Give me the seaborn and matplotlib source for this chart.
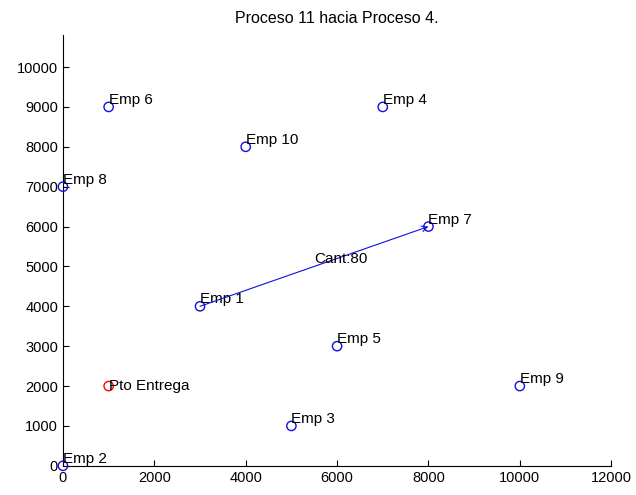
"""
Ruta entre procesos: puntos de empresas y envio
"""

import pandas as pd
import matplotlib.pyplot as plt
import seaborn as sns

sns.set_style("ticks", {'axes.edgecolor': 'black', 'text.color': 'black',
                        'xtick.color': 'black', 'ytick.color': 'black'})
plt.rcParams['font.family'] = ['Liberation Sans', 'DejaVu Sans']

# Datos
nombres = ['Emp 1', 'Emp 2', 'Emp 3', 'Emp 4', 'Emp 5',
           'Emp 6', 'Emp 7', 'Emp 8', 'Emp 9', 'Emp 10']
x_emp = [3000, 0, 5000, 7000, 6000, 1000, 8000, 0, 10000, 4000]
y_emp = [4000, 0, 1000, 9000, 3000, 9000, 6000, 7000, 2000, 8000]
entrega_x = [1000]
entrega_y = [2000]
entrega_nombre = 'Pto Entrega'
origen = 'Emp 1'
destino = 'Emp 7'
cantidad = 80
titulo = 'Proceso 11 hacia Proceso 4.'

df = pd.DataFrame({'nombre': nombres, 'x': x_emp, 'y': y_emp})

fig = plt.figure(figsize=(6.36, 4.95), dpi=100)
ax = fig.add_axes([0.099, 0.059, 0.862, 0.870])

sns.scatterplot(data=df, x='x', y='y', ax=ax, marker='o', s=45,
                facecolors='none', edgecolor='#1010e0', linewidth=1,
                clip_on=False, zorder=3)
sns.scatterplot(x=entrega_x, y=entrega_y, ax=ax, marker='o', s=45,
                facecolors='none', edgecolor='#ff0000', linewidth=1,
                clip_on=False, zorder=3)

for _, fila in df.iterrows():
    ax.text(fila['x'], fila['y'], fila['nombre'], fontsize=11,
            color='black', ha='left', va='bottom', clip_on=False)
ax.text(entrega_x[0], entrega_y[0], entrega_nombre, fontsize=11,
        color='black', ha='left', va='center')

# flecha del envio
p0 = df[df['nombre'] == origen].iloc[0]
p1 = df[df['nombre'] == destino].iloc[0]
ax.annotate('', xy=(p1['x'], p1['y']), xytext=(p0['x'], p0['y']),
            arrowprops=dict(arrowstyle='->', color='#1010e0', lw=0.8,
                            shrinkA=0, shrinkB=0, mutation_scale=10))
ax.text((p0['x'] + p1['x']) / 2, (p0['y'] + p1['y']) / 2,
        f'Cant:{cantidad}', fontsize=11, color='black',
        ha='left', va='bottom')

ax.set_xlim(0, 12000)
ax.set_ylim(0, 10800)
ax.set_xticks(range(0, 12001, 2000))
ax.set_yticks(range(0, 10001, 1000))
ax.tick_params(direction='in', length=4, labelsize=10.5, width=0.8)
ax.set_xlabel('')
ax.set_ylabel('')
ax.set_title(titulo, fontsize=11.5, pad=9, color='black')
sns.despine(ax=ax)

plt.savefig('out.png', dpi=100)
plt.close()
